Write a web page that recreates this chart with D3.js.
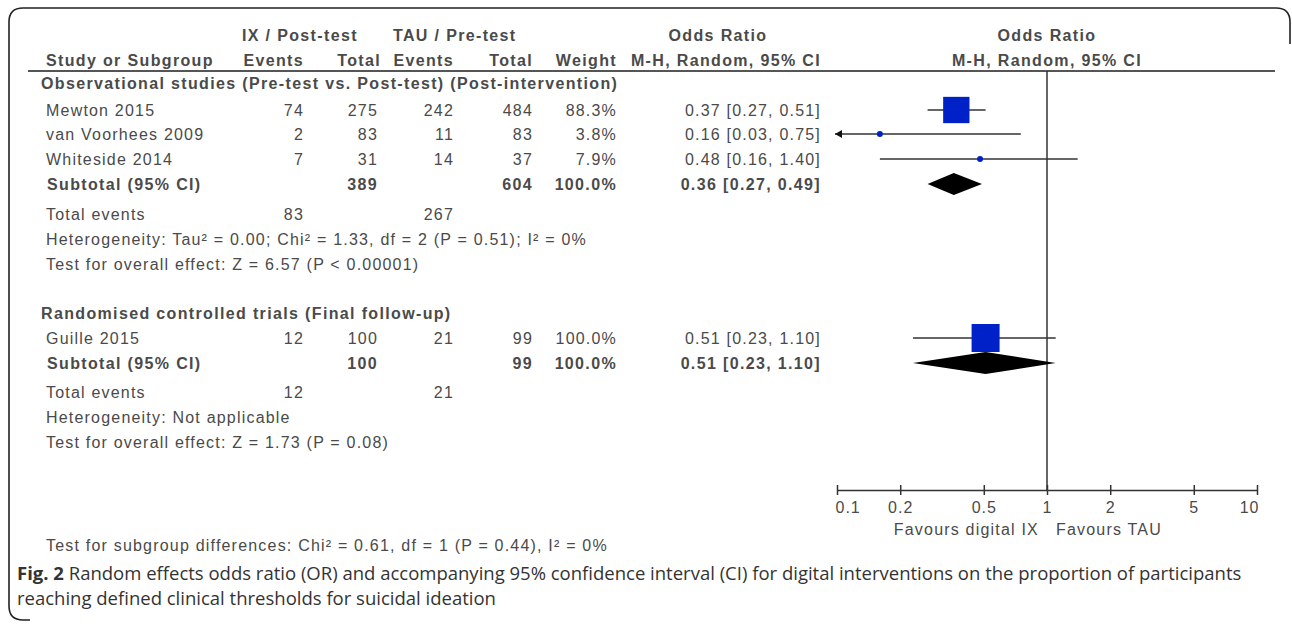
<!DOCTYPE html>
<html><head><meta charset="utf-8">
<script src="https://cdn.jsdelivr.net/npm/d3@7"></script>
<style>body{margin:0;background:#fff;} svg{display:block;}</style>
</head><body>
<svg id="c" width="1292" height="626"></svg>
<script>
// ---------- data ----------
const studies1   = ["Mewton 2015", "van Voorhees 2009", "Whiteside 2014"];
const ixEvents1  = [74, 2, 7];
const ixTotal1   = [275, 83, 31];
const tauEvents1 = [242, 11, 14];
const tauTotal1  = [484, 83, 37];
const weight1    = [88.3, 3.8, 7.9];
const or1        = [0.37, 0.16, 0.48];
const lo1        = [0.27, 0.03, 0.16];
const hi1        = [0.51, 0.75, 1.40];
const subtotal1  = [389, 604, 100.0, 0.36, 0.27, 0.49];   // ixTotal, tauTotal, weight, OR, lo, hi
const totalEvents1 = [83, 267];

const studies2   = ["Guille 2015"];
const ixEvents2  = [12];
const ixTotal2   = [100];
const tauEvents2 = [21];
const tauTotal2  = [99];
const weight2    = [100.0];
const or2        = [0.51];
const lo2        = [0.23];
const hi2        = [1.10];
const subtotal2  = [100, 99, 100.0, 0.51, 0.23, 1.10];
const totalEvents2 = [12, 21];

const tickValues = [0.1, 0.2, 0.5, 1, 2, 5, 10];
const tickLabels = ["0.1", "0.2", "0.5", "1", "2", "5", "10"];

// ---------- setup ----------
const svg = d3.select("#c");
const FONT = "'Liberation Sans', Arial, sans-serif";
const LS = 1.2;
const TXT = "#4a4a4a";
const LINE = "#333";
const x = d3.scaleLog().domain([0.1, 10]).range([837, 1257]);
const size = d3.scaleSqrt().domain([0, 100]).range([0, 28]);
const col = {head: 41, study: 46, ixEv: 304, ixTot: 378, tauEv: 454, tauTot: 533, w: 617, orTxt: 821};
const f2 = d3.format(".2f"), f1 = d3.format(".1f");

function txt(t, xx, y, o = {}) {
  return svg.append("text").attr("x", xx).attr("y", y)
    .attr("font-family", o.family || FONT).attr("font-size", o.size || 16)
    .attr("letter-spacing", o.ls !== undefined ? o.ls : (o.bold ? 1.35 : LS))
    .attr("font-weight", o.bold ? "bold" : "normal")
    .attr("fill", o.fill || TXT).attr("text-anchor", o.anchor || "start").text(t);
}

// frame
svg.append("path")
  .attr("d", "M1290,44 L1290,22 Q1290,8 1276,8 L23,8 Q9,8 9,22 L9,606 Q9,620 23,620 L30,620")
  .attr("fill", "none").attr("stroke", "#222").attr("stroke-width", 1.6);

// headers
const H1 = 41, H2 = 66;
txt("IX / Post-test", 242, H1, {bold: true});
txt("TAU / Pre-test", 393, H1, {bold: true});
txt("Odds Ratio", 718, H1, {bold: true, anchor: "middle"});
txt("Odds Ratio", x(1), H1, {bold: true, anchor: "middle"});
txt("Study or Subgroup", col.study, H2, {bold: true});
txt("Events", col.ixEv, H2, {bold: true, anchor: "end"});
txt("Total", col.ixTot + 3, H2, {bold: true, anchor: "end"});
txt("Events", col.tauEv, H2, {bold: true, anchor: "end"});
txt("Total", col.tauTot, H2, {bold: true, anchor: "end"});
txt("Weight", col.w, H2, {bold: true, anchor: "end"});
txt("M-H, Random, 95% CI", col.orTxt, H2, {bold: true, anchor: "end"});
txt("M-H, Random, 95% CI", x(1), H2, {bold: true, anchor: "middle"});

svg.append("line").attr("x1", 28).attr("x2", 1275).attr("y1", 71).attr("y2", 71)
  .attr("stroke", "#555").attr("stroke-width", 2);

// null line
svg.append("line").attr("x1", x(1)).attr("x2", x(1)).attr("y1", 71).attr("y2", 490)
  .attr("stroke", LINE).attr("stroke-width", 1.5);

function studyRow(name, ie, it, te, tt, w, or, lo, hi, y) {
  const b = y + 6;
  txt(name, col.study, b);
  txt(ie, col.ixEv, b, {anchor: "end"});
  txt(it, col.ixTot, b, {anchor: "end"});
  txt(te, col.tauEv, b, {anchor: "end"});
  txt(tt, col.tauTot, b, {anchor: "end"});
  txt(f1(w) + "%", col.w, b, {anchor: "end"});
  txt(`${f2(or)} [${f2(lo)}, ${f2(hi)}]`, col.orTxt, b, {anchor: "end"});
  const xl = lo < 0.1 ? x(0.1) - 2 : x(lo);
  svg.append("line").attr("x1", xl).attr("x2", x(hi)).attr("y1", y).attr("y2", y)
    .attr("stroke", LINE).attr("stroke-width", 1.5);
  if (lo < 0.1) {
    svg.append("path").attr("d", `M${xl},${y} l7,-4 l0,8 z`).attr("fill", "#111");
  }
  const s = size(w);
  if (s < 9) {
    svg.append("circle").attr("cx", x(or)).attr("cy", y).attr("r", 3).attr("fill", "#0020c8");
  } else {
    svg.append("rect").attr("x", x(or) - s / 2).attr("y", y - s / 2).attr("width", s).attr("height", s)
      .attr("fill", "#0020c8");
  }
}

function subtotalRow(st, y) {
  const b = y + 6;
  txt("Subtotal (95% CI)", col.study + 1, b, {bold: true});
  txt(st[0], col.ixTot, b, {bold: true, anchor: "end"});
  txt(st[1], col.tauTot, b, {bold: true, anchor: "end"});
  txt(f1(st[2]) + "%", col.w, b, {bold: true, anchor: "end"});
  txt(`${f2(st[3])} [${f2(st[4])}, ${f2(st[5])}]`, col.orTxt, b, {bold: true, anchor: "end"});
  svg.append("path")
    .attr("d", `M${x(st[4])},${y} L${x(st[3])},${y - 11} L${x(st[5])},${y} L${x(st[3])},${y + 11} Z`)
    .attr("fill", "#000");
}

// group 1
txt("Observational studies (Pre-test vs. Post-test) (Post-intervention)", col.head, 83 + 6, {bold: true});
const rows1 = [110, 134, 159];
studies1.forEach((s, i) => studyRow(s, ixEvents1[i], ixTotal1[i], tauEvents1[i], tauTotal1[i], weight1[i], or1[i], lo1[i], hi1[i], rows1[i]));
subtotalRow(subtotal1, 184);
txt("Total events", col.study, 214 + 6);
txt(totalEvents1[0], col.ixEv, 214 + 6, {anchor: "end"});
txt(totalEvents1[1], col.tauEv, 214 + 6, {anchor: "end"});
txt("Heterogeneity: Tau\u00B2 = 0.00; Chi\u00B2 = 1.33, df = 2 (P = 0.51); I\u00B2 = 0%", col.study, 239 + 6);
txt("Test for overall effect: Z = 6.57 (P < 0.00001)", col.study, 264 + 6);

// group 2
txt("Randomised controlled trials (Final follow-up)", col.head, 313 + 6, {bold: true});
const rows2 = [338];
studies2.forEach((s, i) => studyRow(s, ixEvents2[i], ixTotal2[i], tauEvents2[i], tauTotal2[i], weight2[i], or2[i], lo2[i], hi2[i], rows2[i]));
subtotalRow(subtotal2, 363);
txt("Total events", col.study, 392 + 6);
txt(totalEvents2[0], col.ixEv, 392 + 6, {anchor: "end"});
txt(totalEvents2[1], col.tauEv, 392 + 6, {anchor: "end"});
txt("Heterogeneity: Not applicable", col.study, 417 + 6);
txt("Test for overall effect: Z = 1.73 (P = 0.08)", col.study, 442 + 6);

// axis
const axisY = 490;
const ax = svg.append("g").attr("transform", `translate(0,${axisY})`)
  .call(d3.axisBottom(x).tickValues(tickValues).tickFormat((d, i) => tickLabels[i]).tickSizeInner(5).tickSizeOuter(0).tickPadding(7));
ax.select(".domain").attr("stroke", LINE).attr("stroke-width", 1.5);
ax.selectAll(".tick line").attr("y1", -5).attr("stroke", LINE).attr("stroke-width", 1.5);
ax.selectAll(".tick text").attr("font-family", FONT).attr("font-size", 16).attr("letter-spacing", 1).attr("fill", TXT)
  .attr("text-anchor", (d, i) => i === 0 ? "start" : (i === tickValues.length - 1 ? "end" : "middle"))
  .attr("dx", (d, i) => i === 0 ? -2 : (i === tickValues.length - 1 ? 2 : 0));
txt("Favours digital IX", x(1) - 8, 535, {anchor: "end"});
txt("Favours TAU", x(1) + 9, 535);

// subgroup differences
txt("Test for subgroup differences: Chi\u00B2 = 0.61, df = 1 (P = 0.44), I\u00B2 = 0%", col.study, 551);

// caption
const CAPF = "'Open Sans', 'Noto Sans', sans-serif";
const cap = svg.append("text").attr("x", 17).attr("y", 580).attr("font-family", CAPF)
  .attr("font-size", 18.5).attr("fill", "#333");
cap.append("tspan").attr("font-weight", "bold").text("Fig. 2");
cap.append("tspan").text(" Random effects odds ratio (OR) and accompanying 95% confidence interval (CI) for digital interventions on the proportion of participants");
svg.append("text").attr("x", 17).attr("y", 605).attr("font-family", CAPF)
  .attr("font-size", 18.5).attr("fill", "#333")
  .text("reaching defined clinical thresholds for suicidal ideation");
</script>
</body></html>
